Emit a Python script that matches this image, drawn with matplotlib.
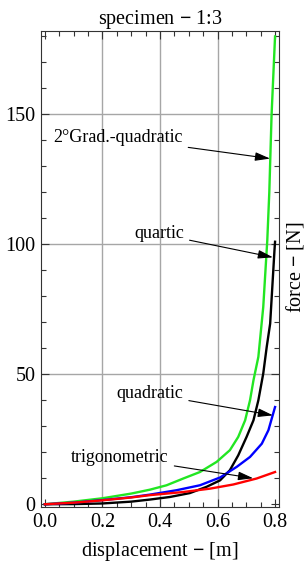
import matplotlib
matplotlib.use("Agg")

import matplotlib.pyplot as plt
from matplotlib.ticker import MultipleLocator

# values (displacement in m, force in N)
x_grad = [0.0, 0.1, 0.2, 0.3, 0.365, 0.423, 0.481, 0.539, 0.597, 0.643, 0.672,
          0.696, 0.713, 0.725, 0.742, 0.759, 0.773, 0.78, 0.788, 0.8]
f_grad = [0.0, 1.0, 2.3, 4.1, 5.6, 7.3, 9.9, 12.4, 16.3, 20.8, 25.9,
          32.3, 40.0, 47.7, 56.7, 75.9, 101.5, 120.0, 150.0, 180.0]

x_quartic = [0.0, 0.1, 0.2, 0.3, 0.365, 0.435, 0.504, 0.562, 0.609, 0.643, 0.672,
             0.701, 0.725, 0.742, 0.759, 0.771, 0.783, 0.798, 0.8]
f_quartic = [0.0, 0.05, 0.3, 1.0, 1.8, 2.8, 4.3, 6.7, 9.2, 13.1, 18.8,
             25.9, 32.3, 40.0, 50.3, 60.5, 69.5, 97.7, 101.0]

x_quad = [0.0, 0.1, 0.2, 0.3, 0.365, 0.458, 0.539, 0.609, 0.667, 0.713, 0.754, 0.777, 0.8]
f_quad = [0.0, 0.6, 1.6, 2.7, 3.7, 5.4, 7.3, 10.3, 14.4, 18.2, 23.3, 28.5, 37.4]

x_trig = [0.0, 0.1, 0.2, 0.3, 0.365, 0.481, 0.574, 0.655, 0.736, 0.8]
f_trig = [0.0, 0.6, 1.5, 2.6, 3.5, 4.7, 6.0, 7.6, 9.9, 12.4]

# label text, label position, arrow tip
labels = ["2°Grad.-quadratic", "quartic", "quadratic", "trigonometric"]
label_xy = [(0.254, 141.0), (0.397, 104.0), (0.365, 42.5), (0.261, 18.0)]
tip_xy = [(0.783, 133.0), (0.793, 95.0), (0.793, 34.2), (0.724, 10.0)]

plt.rcParams["font.family"] = ["Liberation Serif", "DejaVu Serif"]
plt.rcParams["font.size"] = 14.5
plt.rcParams["mathtext.fontset"] = "custom"
plt.rcParams["mathtext.bf"] = "Liberation Serif:bold"
plt.rcParams["mathtext.rm"] = "Liberation Serif"

DASH = r" $\mathbf{-}$ "

fig = plt.figure(figsize=(3.05, 5.68), dpi=100)
ax = fig.add_axes([0.134, 0.107, 0.781, 0.838])

ax.plot(x_grad, f_grad, color="#22e622", lw=1.7, zorder=3)
ax.plot(x_quartic, f_quartic, color="black", lw=1.7, zorder=3)
ax.plot(x_quad, f_quad, color="#0000ff", lw=1.7, zorder=3)
ax.plot(x_trig, f_trig, color="#ff0000", lw=1.7, zorder=3)

for text, xy, tip in zip(labels, label_xy, tip_xy):
    ax.annotate(
        text,
        xy=tip,
        xytext=xy,
        ha="center",
        va="center",
        fontsize=13,
        zorder=5,
        arrowprops=dict(
            arrowstyle="-|>,head_length=0.7,head_width=0.2",
            color="black",
            lw=0.8,
            shrinkA=2,
            shrinkB=0,
        ),
    )

ax.set_xlim(-0.014, 0.814)
ax.set_ylim(-1.15, 182)

ax.xaxis.set_major_locator(MultipleLocator(0.2))
ax.xaxis.set_minor_locator(MultipleLocator(0.05))
ax.yaxis.set_major_locator(MultipleLocator(50))
ax.yaxis.set_minor_locator(MultipleLocator(10))
ax.xaxis.set_major_formatter(plt.FuncFormatter(lambda v, p: f"{v:.1f}"))

ax.tick_params(which="both", direction="in", top=True, right=True,
               color="#333333", width=0.8)
ax.tick_params(which="major", length=6, labelsize=14.5, pad=4)
ax.tick_params(which="minor", length=3.5)

for v in [0.2, 0.4, 0.6]:
    ax.axvline(v, color="#a6a6a6", lw=1.0, zorder=1)
for v in [50, 100, 150]:
    ax.axhline(v, color="#a6a6a6", lw=1.0, zorder=1)

for spine in ax.spines.values():
    spine.set_color("#333333")
    spine.set_linewidth(0.8)

ax.set_title("specimen" + DASH + "1:3", fontsize=14.5, pad=5)
ax.set_xlabel("displacement" + DASH + "[m]", fontsize=14.5, labelpad=6)
ax.yaxis.set_label_position("right")
ax.set_ylabel("force" + DASH + "[N]", fontsize=14.5)
ax.yaxis.set_label_coords(1.02, 0.503)

fig.savefig("out.png", dpi=100)
plt.close(fig)
